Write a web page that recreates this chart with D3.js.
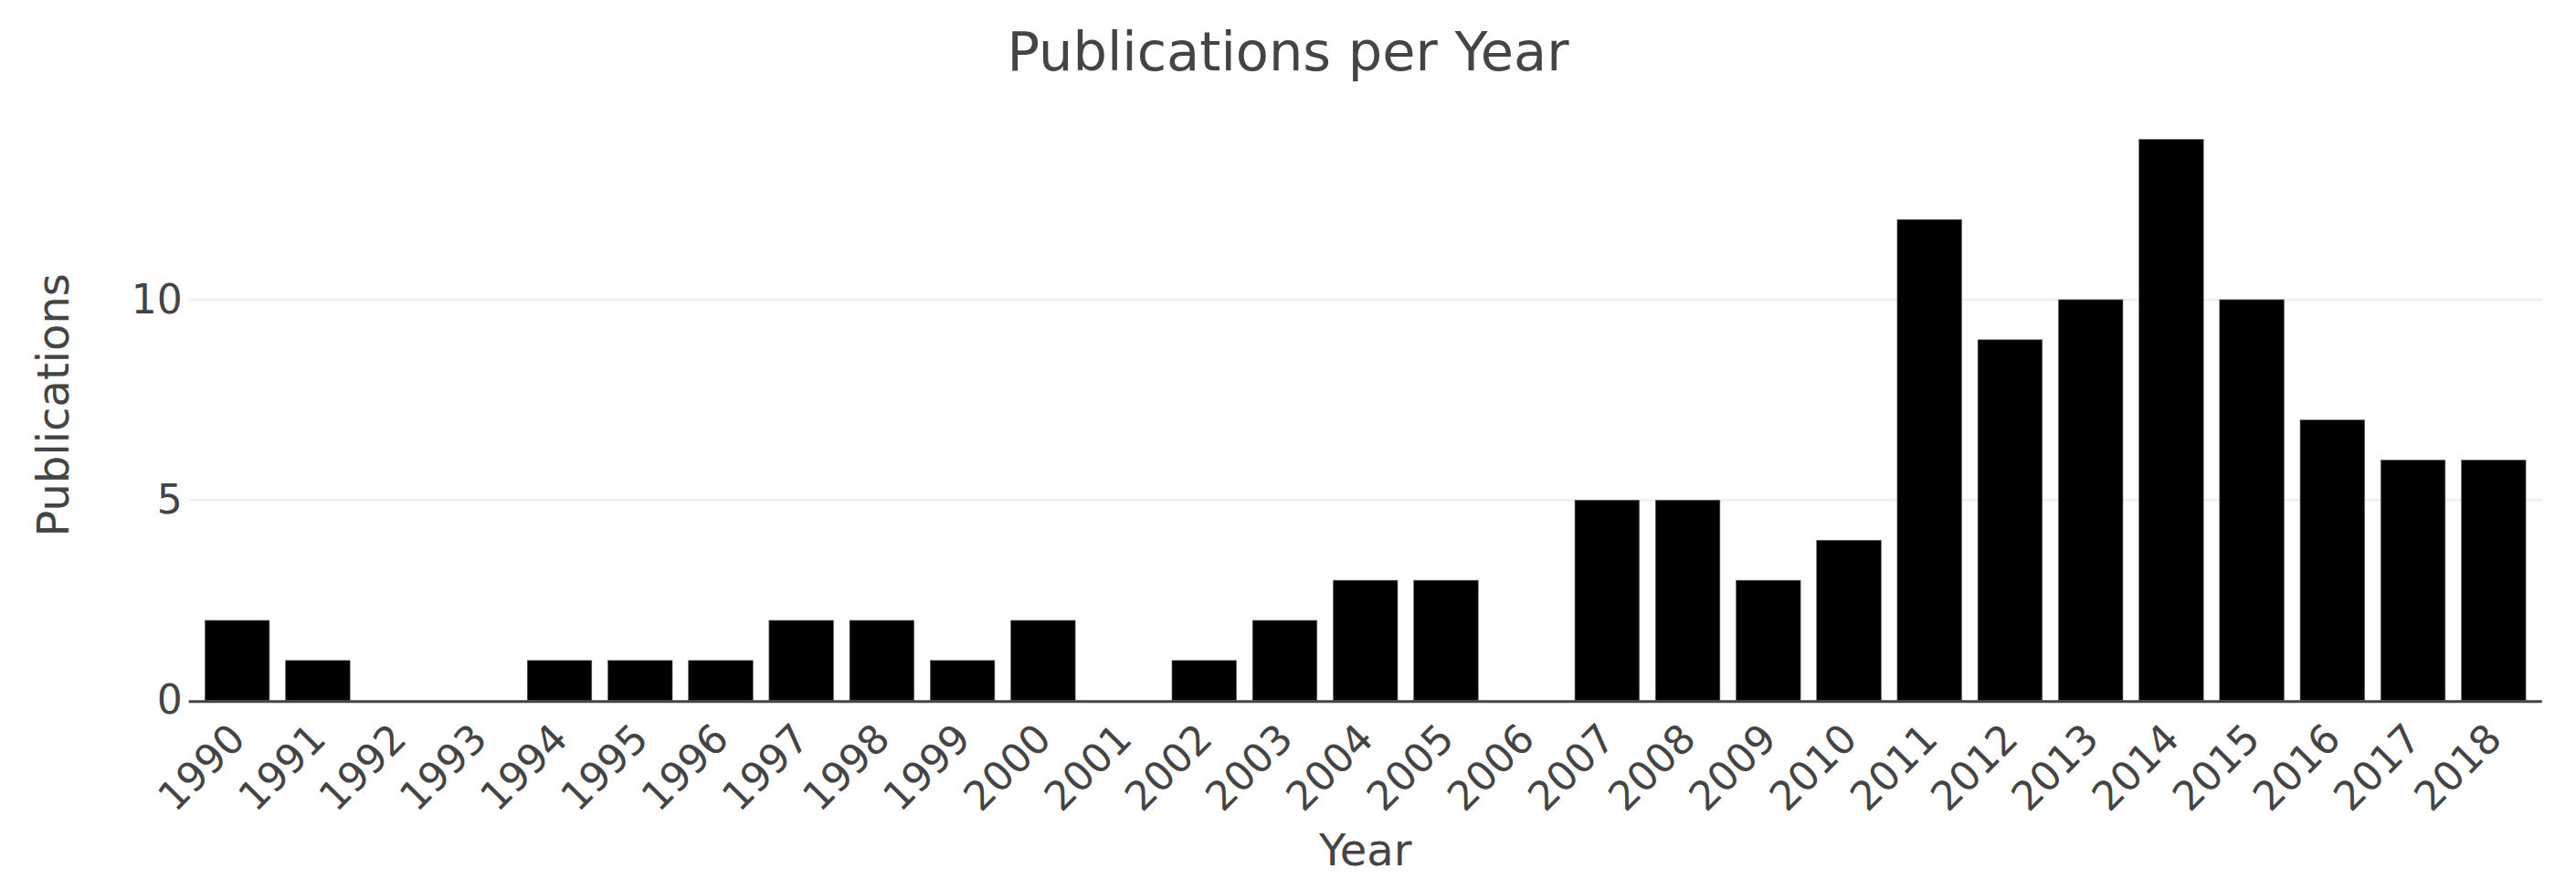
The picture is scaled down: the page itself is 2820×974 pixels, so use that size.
<!DOCTYPE html>
<html>
<head>
<meta charset="utf-8">
<script src="https://cdn.jsdelivr.net/npm/d3@7"></script>
<style>
    body { margin: 0; background: #fff; }
    text { font-family: "DejaVu Sans", verdana, arial, sans-serif; fill: #444; }
</style>
</head>
<body>
<div id="wrapper"></div>
<script>
const years = ["1990", "1991", "1992", "1993", "1994", "1995", "1996", "1997", "1998", "1999",
    "2000", "2001", "2002", "2003", "2004", "2005", "2006", "2007", "2008", "2009",
    "2010", "2011", "2012", "2013", "2014", "2015", "2016", "2017", "2018"];
const publications = [2, 1, 0, 0, 1, 1, 1, 2, 2, 1,
    2, 0, 1, 2, 3, 3, 0, 5, 5, 3,
    4, 12, 9, 10, 14, 10, 7, 6, 6];
const yTicks = [0, 5, 10];
const yMax = 14.74;

async function buildPlot() {
    var dimension = {
        width: 2820,
        height: 974,
        margin: {
            top: 120,
            left: 206.7,
            bottom: 207.3,
            right: 37.3
        }
    };

    dimension.boundedWidth = dimension.width - dimension.margin.left - dimension.margin.right;
    dimension.boundedHeight = dimension.height - dimension.margin.top - dimension.margin.bottom;

    const data = years.map((y, i) => ({ year: y, value: publications[i] }));

    const svg = d3.select("#wrapper").append("svg")
        .attr("width", dimension.width)
        .attr("height", dimension.height);

    const bounds = svg.append("g")
        .attr("transform", `translate(${dimension.margin.left}, ${dimension.margin.top})`);

    const xScaler = d3.scaleBand()
        .domain(years)
        .range([0, dimension.boundedWidth])
        .padding(0.2);

    const yScaler = d3.scaleLinear()
        .domain([0, yMax])
        .range([dimension.boundedHeight, 0]);

    // grid lines + y labels
    const yAxis = bounds.append("g")
        .call(d3.axisLeft(yScaler).tickValues(yTicks).tickSize(0).tickPadding(7));
    yAxis.select(".domain").remove();
    yAxis.selectAll("text")
        .style("font-size", "44px")
        .attr("fill", "#444");

    bounds.append("g")
        .selectAll("line")
        .data(yTicks.filter(d => d > 0))
        .enter()
        .append("line")
        .attr("x1", 0)
        .attr("x2", dimension.boundedWidth)
        .attr("y1", d => yScaler(d))
        .attr("y2", d => yScaler(d))
        .attr("stroke", "#eee")
        .attr("stroke-width", 2.5);

    bounds.append("g")
        .selectAll("rect")
        .data(data)
        .enter()
        .append("rect")
        .attr("x", d => xScaler(d.year))
        .attr("y", d => yScaler(d.value))
        .attr("width", xScaler.bandwidth())
        .attr("height", d => yScaler(0) - yScaler(d.value))
        .attr("fill", "#000")
        .attr("stroke", "#666")
        .attr("stroke-width", 0.6);

    // x axis line
    bounds.append("line")
        .attr("x1", 0)
        .attr("x2", dimension.boundedWidth)
        .attr("y1", dimension.boundedHeight + 1)
        .attr("y2", dimension.boundedHeight + 1)
        .attr("stroke", "#444")
        .attr("stroke-width", 3);

    bounds.append("g")
        .selectAll("text")
        .data(years)
        .enter()
        .append("text")
        .attr("transform", d => `translate(${xScaler(d) + xScaler.bandwidth() / 2}, ${dimension.boundedHeight + 33}) rotate(-45)`)
        .attr("text-anchor", "end")
        .attr("dy", "0.36em")
        .style("font-size", "44px")
        .text(d => d);

    svg.append("text")
        .attr("x", dimension.width / 2)
        .attr("y", 77)
        .attr("text-anchor", "middle")
        .style("font-size", "59px")
        .text("Publications per Year");

    svg.append("text")
        .attr("x", dimension.margin.left + dimension.boundedWidth / 2)
        .attr("y", 947)
        .attr("text-anchor", "middle")
        .style("font-size", "48px")
        .text("Year");

    svg.append("text")
        .attr("transform", `translate(75, ${dimension.margin.top + dimension.boundedHeight / 2}) rotate(-90)`)
        .attr("text-anchor", "middle")
        .style("font-size", "48px")
        .text("Publications");
}

buildPlot()
</script>
</body>
</html>
